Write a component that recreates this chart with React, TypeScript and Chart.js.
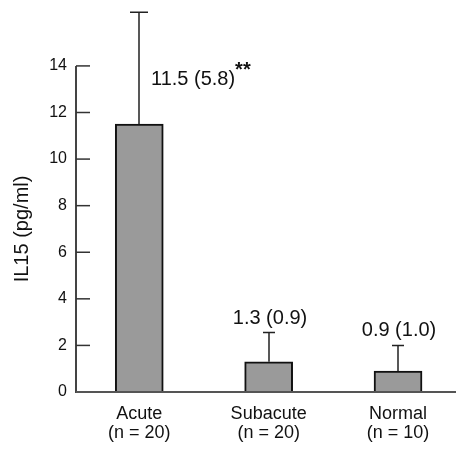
import React, { useEffect, useRef } from 'react';
import { Chart, registerables } from 'chart.js';

Chart.register(...registerables);

const categories = ['Acute', 'Subacute', 'Normal'];
const groupSizes = ['(n = 20)', '(n = 20)', '(n = 10)'];
const means = [11.5, 1.3, 0.9];
const errorTops = [16.3, 2.55, 2.0];
const valueLabels = ['11.5 (5.8)', '1.3 (0.9)', '0.9 (1.0)'];
const significance = ['**', '', ''];
const yTicks = [0, 2, 4, 6, 8, 10, 12, 14];
const yTitle = 'IL15 (pg/ml)';

const FONT = "'Liberation Sans', Arial, sans-serif";

const overlayPlugin = {
  id: 'overlay',
  afterDatasetsDraw(chart: any) {
    const ctx = chart.ctx;
    const yS = chart.scales.y;
    const area = chart.chartArea;
    const y0 = yS.getPixelForValue(0);
    const yTop = yS.getPixelForValue(yTicks[yTicks.length - 1]);
    ctx.save();
    // y axis line
    ctx.strokeStyle = '#444';
    ctx.lineWidth = 2;
    ctx.beginPath();
    ctx.moveTo(area.left, y0 + 1);
    ctx.lineTo(area.left, yTop);
    ctx.stroke();
    // inward tick marks
    ctx.strokeStyle = '#333';
    ctx.lineWidth = 1.5;
    yTicks.forEach((v) => {
      const p = yS.getPixelForValue(v);
      ctx.beginPath();
      ctx.moveTo(area.left, p);
      ctx.lineTo(area.left + 14, p);
      ctx.stroke();
    });
    // baseline
    ctx.strokeStyle = '#555';
    ctx.lineWidth = 2;
    ctx.beginPath();
    ctx.moveTo(area.left, y0);
    ctx.lineTo(area.right, y0);
    ctx.stroke();

    // error bars and labels
    const capWidths = [18, 12, 12];
    const meta = chart.getDatasetMeta(0);
    meta.data.forEach((bar: any, i: number) => {
      const x = Math.round(bar.x);
      const yb = bar.y;
      const yt = yS.getPixelForValue(errorTops[i]);
      ctx.strokeStyle = '#222';
      ctx.lineWidth = 1.5;
      ctx.beginPath();
      ctx.moveTo(x, yb);
      ctx.lineTo(x, yt);
      ctx.moveTo(x - capWidths[i] / 2, yt);
      ctx.lineTo(x + capWidths[i] / 2, yt);
      ctx.stroke();

      ctx.fillStyle = '#111';
      ctx.font = `20px ${FONT}`;
      ctx.textBaseline = 'alphabetic';
      if (i === 0) {
        const lx = x + 12;
        const ly = yS.getPixelForValue(13.2);
        ctx.textAlign = 'left';
        ctx.fillText(valueLabels[i], lx, ly);
        const w = ctx.measureText(valueLabels[i]).width;
        if (significance[i]) {
          ctx.font = `bold 20px ${FONT}`;
          ctx.fillText(significance[i], lx + w, ly - 9);
        }
      } else {
        ctx.textAlign = 'center';
        ctx.fillText(valueLabels[i], x + 1, yt - 9);
      }
    });

    // y title
    ctx.fillStyle = '#111';
    ctx.font = `20px ${FONT}`;
    ctx.textAlign = 'center';
    ctx.textBaseline = 'alphabetic';
    ctx.translate(28, (y0 + yTop) / 2);
    ctx.rotate(-Math.PI / 2);
    ctx.fillText(yTitle, 0, 0);
    ctx.restore();
  },
};

export default function App() {
  const ref = useRef<HTMLCanvasElement | null>(null);
  useEffect(() => {
    if (!ref.current) return;
    const chart = new Chart(ref.current, {
      type: 'bar',
      data: {
        datasets: [
          {
            data: means.map((m, i) => ({ x: i, y: m })),
            backgroundColor: '#9a9a9a',
            borderColor: '#111',
            borderWidth: 2,
            barThickness: 48,
          },
        ],
      },
      options: {
        responsive: false,
        animation: false,
        devicePixelRatio: 1,
        layout: { padding: 0 },
        plugins: { legend: { display: false }, tooltip: { enabled: false } },
        scales: {
          x: {
            type: 'linear',
            offset: false,
            min: -0.489,
            max: 2.448,
            grid: { display: false, drawTicks: false, offset: false },
            border: { display: false },
            afterBuildTicks: (s: any) => {
              s.ticks = categories.map((_, i) => ({ value: i }));
            },
            afterFit: (s: any) => {
              s.height = 57;
              s.paddingLeft = 0;
              s.paddingRight = 0;
              s.paddingTop = 0;
              s.paddingBottom = 0;
            },
            ticks: {
              font: { family: FONT, size: 18, lineHeight: 1.08 },
              color: '#111',
              padding: 12,
              maxRotation: 0,
              autoSkip: false,
              callback: (v: any) => [categories[v], groupSizes[v]],
            },
          },
          y: {
            type: 'linear',
            min: 0,
            max: 16.83,
            grid: { display: false, drawTicks: false },
            border: { display: false },
            afterBuildTicks: (s: any) => {
              s.ticks = yTicks.map((v) => ({ value: v }));
            },
            afterFit: (s: any) => {
              s.width = 76;
              s.paddingTop = 0;
              s.paddingBottom = 0;
              s.paddingLeft = 0;
              s.paddingRight = 0;
            },
            ticks: {
              font: { family: FONT, size: 16 },
              color: '#111',
              padding: 9,
            },
          },
        },
      } as any,
      plugins: [overlayPlugin],
    });
    return () => chart.destroy();
  }, []);
  return (
    <canvas
      ref={ref}
      width={456}
      height={449}
      style={{ position: 'fixed', left: 0, top: 0, display: 'block', width: 456, height: 449 }}
    />
  );
}
